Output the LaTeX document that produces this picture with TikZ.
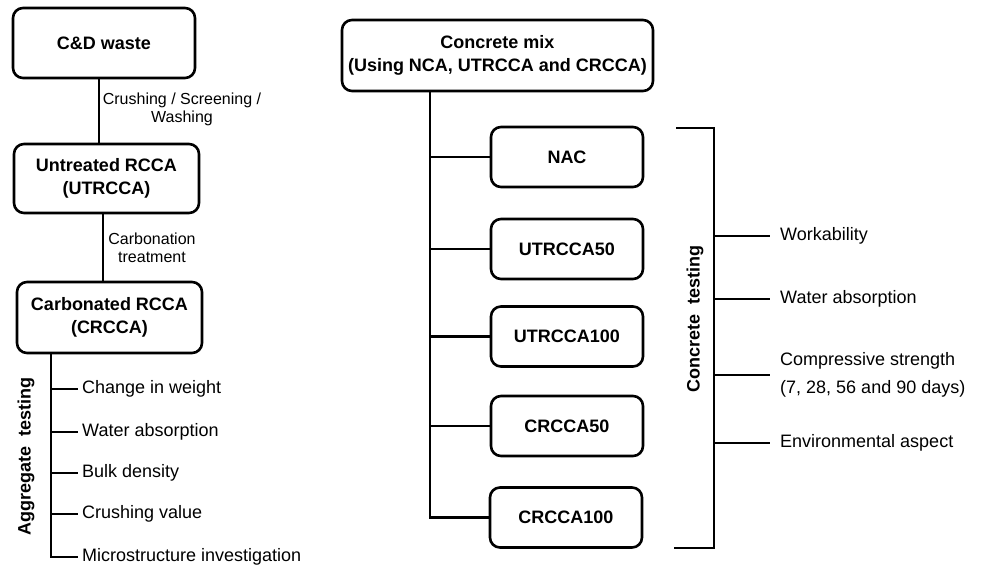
\documentclass[tikz,border=0pt]{standalone}
\usepackage{fontspec}
\setmainfont{Liberation Sans}
\begin{document}
\begin{tikzpicture}[x=1pt,y=-1pt,
  box/.style={draw,line width=2.6pt,rounded corners=10pt,align=center,inner sep=0pt,
    font=\fontsize{18}{23}\selectfont\bfseries},
  sbox/.style={box,minimum width=152pt,minimum height=60pt},
  conn/.style={line width=2.6pt},
  item/.style={anchor=west,inner sep=0pt,font=\fontsize{18}{22}\selectfont},
  lbl/.style={inner sep=0pt,align=center,font=\fontsize{16}{18}\selectfont},
  vlab/.style={rotate=90,inner sep=0pt,font=\fontsize{18}{22}\selectfont\bfseries}]
\useasboundingbox (0,0) rectangle (983,566);
% left column
\node[box,minimum width=182pt,minimum height=70pt] (cd) at (104,43) {C\&D waste};
\node[box,minimum width=185pt,minimum height=69pt] (ut) at (106.5,178.5) {Untreated RCCA\\(UTRCCA)};
\node[box,minimum width=185pt,minimum height=71pt] (cr) at (109.5,317.5) {Carbonated RCCA\\(CRCCA)};
\coordinate (a1) at (99,0);
\coordinate (a2) at (103,0);
\draw[conn] (a1 |- cd.south) -- (a1 |- ut.north);
\draw[conn] (a2 |- ut.south) -- (a2 |- cr.north);
\node[lbl] (l1) at (182,109) {Crushing / Screening /\\Washing};
\node[lbl] (l2) at (152,248) {Carbonation\\treatment};
% aggregate testing
\coordinate (at) at (51,0);
\node[item] (g1) at (82,389) {Change in weight};
\node[item] (g2) at (82,432) {Water absorption};
\node[item] (g3) at (82,473) {Bulk density};
\node[item] (g4) at (82,514) {Crushing value};
\node[item] (g5) at (82,557) {Microstructure investigation};
\draw[conn] (at |- cr.south) |- ([xshift=-4pt]g5.west);
\foreach \g in {g1,g2,g3,g4}{\draw[conn] (at |- \g.west) -- ([xshift=-4pt]\g.west);}
\node[vlab] (agl) at (26,456) {Aggregate\ \ testing};
% concrete mix
\node[box,minimum width=311pt,minimum height=71pt] (mix) at (497.5,55.5) {Concrete mix\\(Using NCA, UTRCCA and CRCCA)};
\node[sbox] (nac) at (567,157) {NAC};
\node[sbox] (u50) at (567,249) {UTRCCA50};
\node[sbox] (u100) at (567,336.5) {UTRCCA100};
\node[sbox] (c50) at (567,426) {CRCCA50};
\node[sbox] (c100) at (566,517.5) {CRCCA100};
\coordinate (mt) at (430,0);
\draw[conn] (mt |- mix.south) |- (c100.west);
\foreach \b in {nac,u50,u100,c50}{\draw[conn] (mt |- \b.west) -- (\b.west);}
% concrete testing bracket
\coordinate (bt1) at (676,128);
\coordinate (bt2) at (714,128);
\coordinate (bb2) at (714,548);
\coordinate (bb1) at (674,548);
\draw[conn] (bt1) -- (bt2) -- (bb2) -- (bb1);
\node[item] (t1) at (780,236) {Workability};
\node[item] (t2) at (780,299) {Water absorption};
\node[item,align=left,font=\fontsize{18}{28}\selectfont] (t3) at (780,375) {Compressive strength\\(7, 28, 56 and 90 days)};
\node[item] (t4) at (780,443) {Environmental aspect};
\foreach \t in {t1,t2,t3,t4}{\draw[conn] (bt2 |- \t.west) -- ([xshift=-10pt]\t.west);}
\node[vlab] (ctl) at (695,319) {Concrete\ \ testing};
\end{tikzpicture}
\end{document}
